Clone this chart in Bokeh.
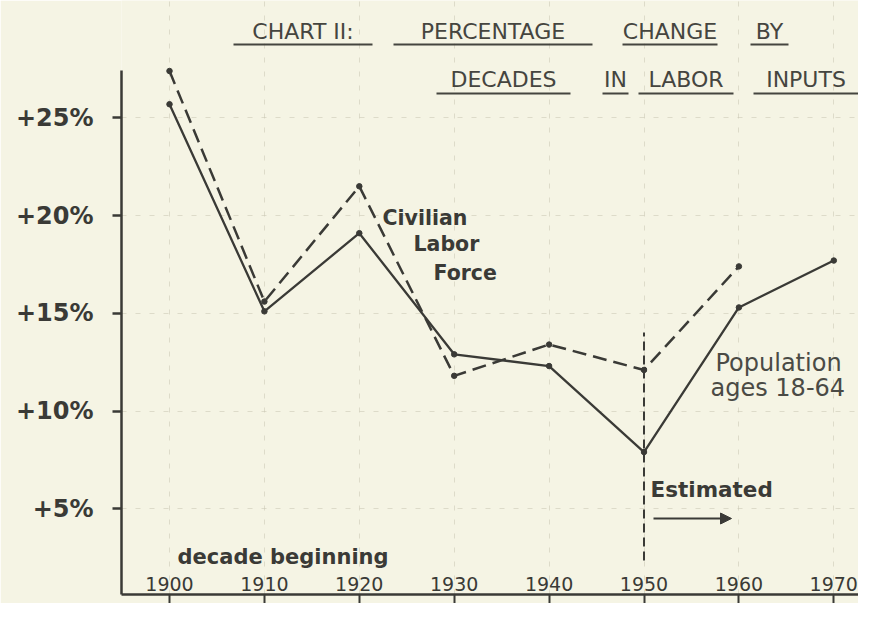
from bokeh.plotting import figure
from bokeh.models import Range1d, FixedTicker, PrintfTickFormatter, Arrow, NormalHead, ColumnDataSource
from bokeh.core.properties import value
from bokeh.embed import file_html
from bokeh.resources import INLINE

# ---------------- data ----------------
decades = [1900, 1910, 1920, 1930, 1940, 1950, 1960, 1970]
year_labels = ["1900", "1910", "1920", "1930", "1940", "1950", "1960", "1970"]
labor_decades = [1900, 1910, 1920, 1930, 1940, 1950, 1960]
civilian_labor_force = [27.4, 15.6, 21.5, 11.8, 13.4, 12.1, 17.4]
population_18_64 = [25.7, 15.1, 19.1, 12.9, 12.3, 7.9, 15.3, 17.7]
y_ticks = [5, 10, 15, 20, 25]
estimate_start = 1950

title_line1 = ["CHART II:", "PERCENTAGE", "CHANGE", "BY"]
title_line2 = ["DECADES", "IN", "LABOR", "INPUTS"]

# ------------- layout helpers (picture pixel -> data) -------------
X0, XS = 169.0, 9.49     # px of 1900, px per year
Y0, YS = 605.9, 19.54    # px of 0 %, px per percent
def dx(px):
    return 1900 + (px - X0) / XS
def dy(py):
    return (Y0 - py) / YS

INK = "#3a3a36"
BG = "#f5f4e4"
FONT = value("DejaVu Sans")
W, H = 858, 603
AXIS_Y = 594

p = figure(width=W, height=H, output_backend="svg", toolbar_location=None,
           x_range=Range1d(dx(121), dx(W)), y_range=Range1d(dy(AXIS_Y), dy(0)),
           min_border_left=121, min_border_right=0, min_border_top=0,
           min_border_bottom=H - AXIS_Y)
p.background_fill_color = BG
p.border_fill_color = BG
p.outline_line_color = None

# axes
p.yaxis.ticker = FixedTicker(ticks=y_ticks)
p.yaxis.formatter = PrintfTickFormatter(format="+%d%%")
p.yaxis.bounds = (dy(AXIS_Y), dy(70))
p.yaxis.axis_line_width = 2.5
p.yaxis.axis_line_color = INK
p.yaxis.major_tick_line_color = INK
p.yaxis.major_tick_line_width = 2.5
p.yaxis.major_tick_out = 9
p.yaxis.major_tick_in = 0
p.yaxis.minor_tick_line_color = None
p.yaxis.major_label_standoff = 19
p.yaxis.major_label_text_font = "DejaVu Sans"
p.yaxis.major_label_text_font_style = "bold"
p.yaxis.major_label_text_font_size = "24px"
p.yaxis.major_label_text_color = INK

p.xaxis.ticker = FixedTicker(ticks=decades)
p.xaxis.major_label_overrides = {d: s for d, s in zip(decades, year_labels)}
p.xaxis.axis_line_width = 2.5
p.xaxis.axis_line_color = INK
p.xaxis.major_tick_line_color = INK
p.xaxis.major_tick_line_width = 2
p.xaxis.major_tick_out = 9
p.xaxis.major_tick_in = 0
p.xaxis.minor_tick_line_color = None
p.xaxis.major_label_text_font = "DejaVu Sans"
p.xaxis.major_label_text_font_size = "19px"
p.xaxis.major_label_text_color = INK
p.xaxis.major_label_standoff = -27   # year labels sit just above the axis line

# faint graph-paper grid
p.xgrid.ticker = FixedTicker(ticks=decades)
p.ygrid.ticker = FixedTicker(ticks=y_ticks)
for g in (p.xgrid, p.ygrid):
    g.grid_line_color = "#c9c7b2"
    g.grid_line_alpha = 0.55
    g.grid_line_dash = "5 9"
    g.grid_line_width = 1

# estimated boundary
p.segment(x0=[estimate_start], y0=[dy(560)], x1=[estimate_start], y1=[dy(332)],
          line_color=INK, line_width=2, line_dash="9 5")

# series
clf = ColumnDataSource(dict(x=labor_decades, y=civilian_labor_force))
pop = ColumnDataSource(dict(x=decades, y=population_18_64))
p.line("x", "y", source=clf, line_color=INK, line_width=2.5, line_dash="14 7")
p.line("x", "y", source=pop, line_color=INK, line_width=2.3)
p.scatter("x", "y", source=clf, size=5.5, color=INK)
p.scatter("x", "y", source=pop, size=5.5, color=INK)

p.text(x=[dx(177)], y=[dy(556)], text=["decade beginning"], text_font=FONT,
       text_font_style="bold", text_font_size="21px", text_baseline="alphabetic", text_color=INK)

# series labels
p.text(x=[dx(382), dx(413), dx(433)], y=[dy(217), dy(243), dy(272)],
       text=["Civilian", "Labor", "Force"], text_font=FONT, text_font_style="bold",
       text_font_size="20.5px", text_baseline="middle", text_color=INK)
p.text(x=[dx(715), dx(710)], y=[dy(362), dy(387)], text=["Population", "ages 18-64"],
       text_font=FONT, text_font_size="24px", text_baseline="middle", text_color="#4a4a45")
p.text(x=[dx(650)], y=[dy(489)], text=["Estimated"], text_font=FONT, text_font_style="bold",
       text_font_size="21.5px", text_baseline="middle", text_color=INK)
p.add_layout(Arrow(x_start=dx(653), y_start=dy(518), x_end=dx(731), y_end=dy(518),
                   line_color=INK, line_width=2,
                   end=NormalHead(size=11, fill_color=INK, line_color=INK)))

# title (lettering, each word underlined)
line1_ext = [(233, 372), (393, 592), (622, 717), (750, 788)]
line2_ext = [(436, 570), (602, 628), (638, 733), (753, 858)]
for words, ext, base, ul in ((title_line1, line1_ext, 31, 44), (title_line2, line2_ext, 79, 93)):
    p.text(x=[dx((a + b) / 2) for a, b in ext], y=[dy(base)] * len(words), text=words,
           text_font=FONT, text_font_size="22px", text_align="center",
           text_baseline="alphabetic", text_color="#45453f")
    p.segment(x0=[dx(a) for a, b in ext], y0=[dy(ul)] * len(ext),
              x1=[dx(b) for a, b in ext], y1=[dy(ul)] * len(ext),
              line_color="#45453f", line_width=2)

open("out.html", "w").write(file_html(p, INLINE))
